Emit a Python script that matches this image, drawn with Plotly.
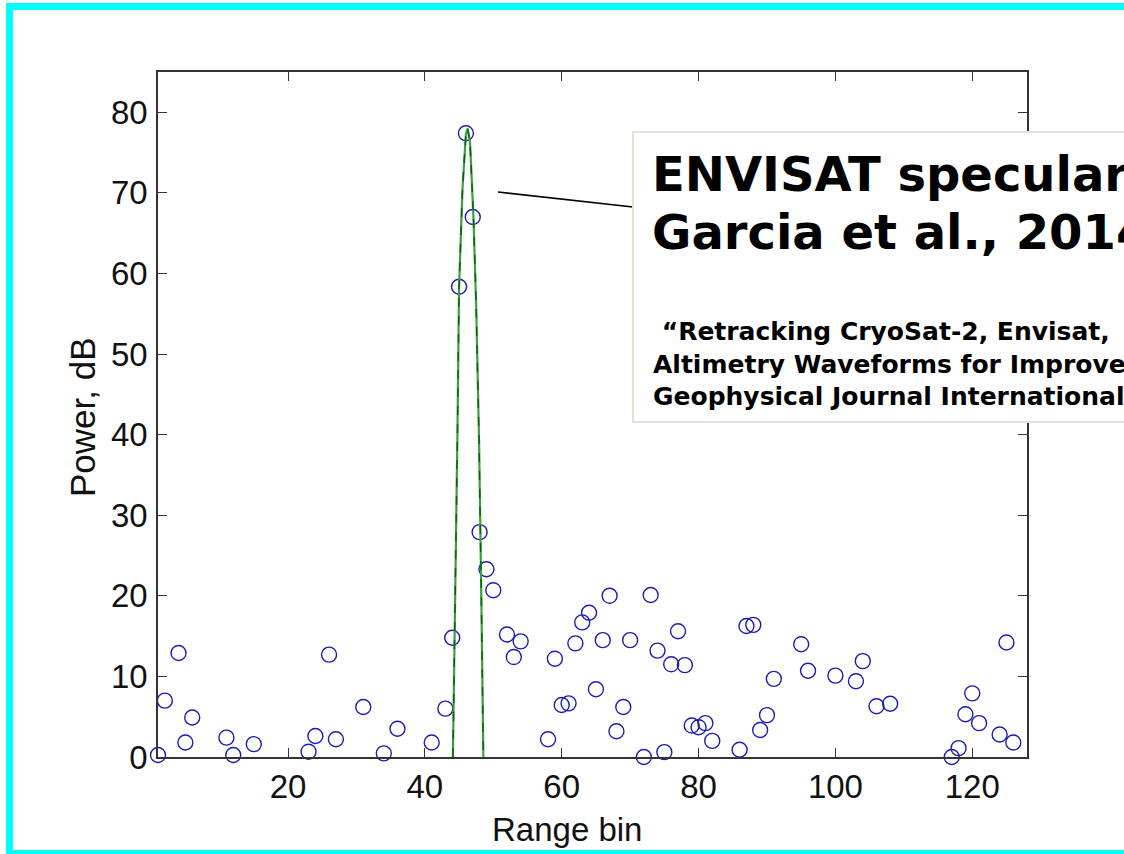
import plotly.graph_objects as go

# ---- data ----
range_bins = [1, 2, 4, 5, 6, 11, 12, 15, 23, 24, 26, 27, 31, 34, 36, 41, 43, 44, 45, 46,
              47, 48, 49, 50, 52, 53, 54, 58, 59, 60, 61, 62, 63, 64, 65, 66, 67, 68, 69, 70,
              72, 73, 74, 75, 76, 77, 78, 79, 80, 81, 82, 86, 87, 88, 89, 90, 91, 95, 96, 100,
              103, 104, 106, 107, 108, 117, 118, 119, 120, 121, 124, 125, 126]
power_db = [0.25, 7.0, 12.9, 1.8, 4.9, 2.4, 0.25, 1.6, 0.66, 2.6, 12.7, 2.2, 6.2, 0.45, 3.5, 1.8, 6.0, 14.8, 58.35, 77.4,
            67.0, 27.9, 23.3, 20.7, 15.2, 12.4, 14.35, 2.2, 12.2, 6.45, 6.66, 14.1, 16.7, 17.9, 8.4, 14.5, 20.0, 3.2, 6.2, 14.5,
            0.0, 20.1, 13.2, 0.6, 11.5, 15.6, 11.4, 3.9, 3.7, 4.2, 2.0, 0.9, 16.25, 16.4, 3.35, 5.2, 9.7, 14.0, 10.7, 10.1,
            9.4, 11.9, 6.3, -0.1, 6.6, 0.0, 1.1, 5.3, 7.9, 4.2, 2.8, 14.2, 1.8]

model_x = [44.1, 44.45, 44.76, 45.0, 45.5, 46.0, 46.25, 46.6, 47.1, 47.5, 47.92, 48.25, 48.55]
model_y = [0.0, 20.0, 40.0, 58.3, 70.5, 77.3, 78.0, 76.3, 67.0, 56.0, 39.3, 20.0, 0.0]

x_ticks = [20, 40, 60, 80, 100, 120]
y_ticks = [0, 10, 20, 30, 40, 50, 60, 70, 80]

title_line1 = "ENVISAT specular"
title_line2 = "Garcia et al., 2014"
ref_lines = ["\u00a0\u201cRetracking CryoSat-2, Envisat,",
             "Altimetry Waveforms for Improved",
             "Geophysical Journal International"]

# ---- layout geometry (pixels) ----
W, H = 1124, 854
L, R, T, B = 158, 1027, 72, 757


def px(x):
    return (x - L) / (R - L)


def py(y):
    return (B - y) / (B - T)


fig = go.Figure()

fig.add_trace(go.Scatter(
    x=range_bins, y=power_db, mode="markers",
    marker=dict(symbol="circle-open", size=15, color="#1c1cb8", line=dict(width=1.4, color="#1c1cb8")),
    cliponaxis=False, showlegend=False))

fig.add_trace(go.Scatter(
    x=model_x, y=model_y, mode="lines",
    line=dict(color="#3f9f3f", width=2.2), showlegend=False))
fig.add_trace(go.Scatter(
    x=model_x, y=model_y, mode="lines",
    line=dict(color="#0b5e0b", width=1.4, dash="dash"), showlegend=False))

axis_common = dict(
    showline=True, linecolor="#333333", linewidth=1.6, mirror="ticks",
    ticks="inside", ticklen=9, tickwidth=1.3, tickcolor="#333333",
    showgrid=False, zeroline=False,
    tickfont=dict(family="Liberation Sans, Arial, sans-serif", size=33, color="#111111"),
)

fig.update_xaxes(range=[1, 128], tickvals=x_ticks, ticklabelstandoff=0, **axis_common)
fig.update_yaxes(range=[0, 85], tickvals=y_ticks, ticklabelstandoff=2, **axis_common)

shapes = []
# connector line from the peak to the note box
shapes.append(dict(type="line", xref="paper", yref="paper",
                   x0=px(498), y0=py(192), x1=px(633), y1=py(207),
                   line=dict(color="#000000", width=1.6), layer="above"))
# note box (runs off the right edge, as in the reference)
shapes.append(dict(type="rect", xref="paper", yref="paper",
                   x0=px(633), y0=py(422), x1=px(1140), y1=py(132),
                   fillcolor="#ffffff", line=dict(color="#e6e3d6", width=2), layer="above"))
# cyan frame
cyan = "#00ffff"
shapes.append(dict(type="rect", xref="paper", yref="paper",
                   x0=px(6), y0=py(860), x1=px(13), y1=py(3),
                   fillcolor=cyan, line=dict(width=0), layer="above"))
shapes.append(dict(type="rect", xref="paper", yref="paper",
                   x0=px(6), y0=py(10), x1=px(1130), y1=py(3),
                   fillcolor=cyan, line=dict(width=0), layer="above"))
shapes.append(dict(type="rect", xref="paper", yref="paper",
                   x0=px(6), y0=py(860), x1=px(1130), y1=py(850),
                   fillcolor=cyan, line=dict(width=0), layer="above"))

big_font = dict(family="DejaVu Sans", size=48, color="#000000", weight="bold")
annotations = [
    dict(text=title_line1, xref="paper", yref="paper",
         x=px(650), y=py(174), xanchor="left", yanchor="middle", align="left",
         showarrow=False, font=big_font),
    dict(text=title_line2, xref="paper", yref="paper",
         x=px(650), y=py(232), xanchor="left", yanchor="middle", align="left",
         showarrow=False, font=big_font),
    dict(text="<br>".join(ref_lines), xref="paper", yref="paper",
         x=px(651), y=py(364), xanchor="left", yanchor="middle", align="left",
         showarrow=False,
         font=dict(family="DejaVu Sans", size=25, color="#000000", weight="bold")),
    dict(text="Range bin", xref="paper", yref="paper",
         x=px(567), y=py(829), xanchor="center", yanchor="middle", showarrow=False,
         font=dict(family="Liberation Sans Narrow, Arial Narrow, Liberation Sans, sans-serif",
                   size=33, color="#111111")),
    dict(text="Power, dB", xref="paper", yref="paper",
         x=px(83), y=py(417), xanchor="center", yanchor="middle", showarrow=False,
         textangle=-90,
         font=dict(family="Liberation Sans, Arial, sans-serif", size=35, color="#111111")),
]

fig.update_layout(
    width=W, height=H,
    margin=dict(l=L, r=W - R, t=T, b=H - B, autoexpand=False),
    paper_bgcolor="#ffffff", plot_bgcolor="#ffffff",
    shapes=shapes, annotations=annotations,
    showlegend=False,
)

fig.write_html("out.html")
